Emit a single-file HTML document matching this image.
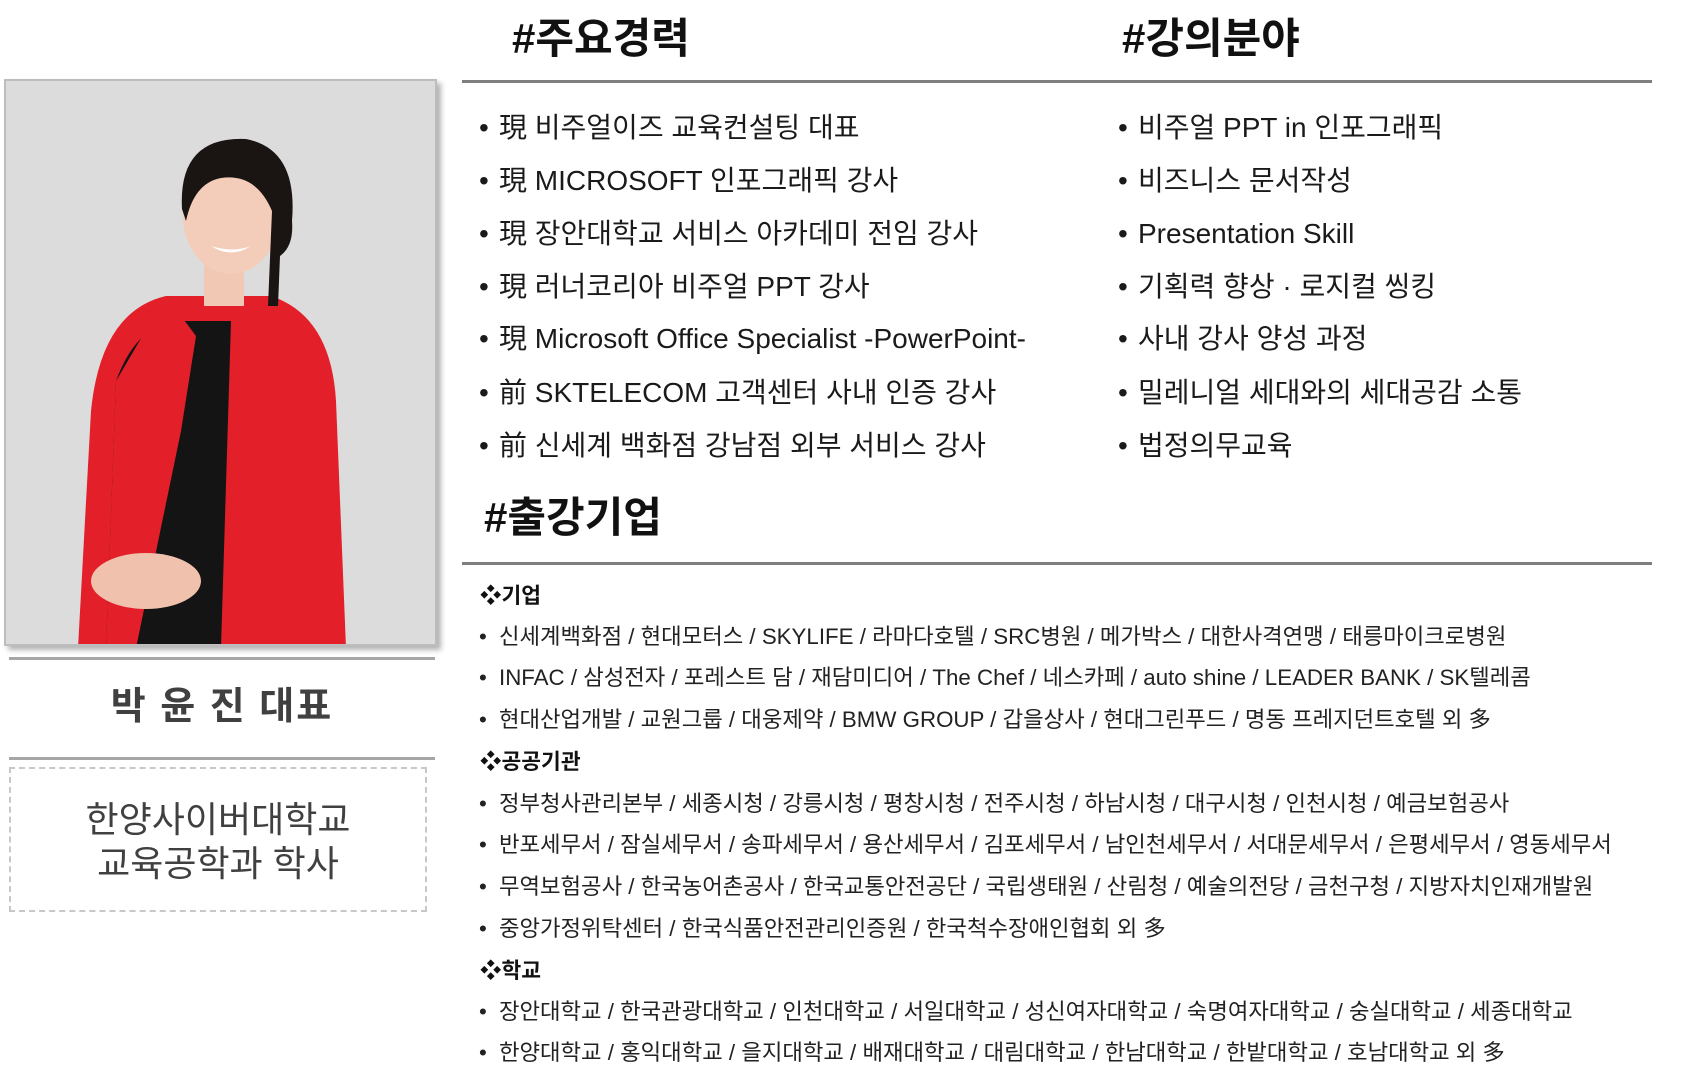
<!DOCTYPE html>
<html><head><meta charset="utf-8">
<style>
*{margin:0;padding:0;box-sizing:border-box}
body{width:1694px;height:1077px;background:#fff;position:relative;overflow:hidden;font-family:"Liberation Sans","Noto Sans CJK KR",sans-serif;color:#1a1a1a}
.a{position:absolute;white-space:nowrap}
.h{font-size:42px;font-weight:bold;color:#111;line-height:50px}
.rule{position:absolute;height:3px;background:#7f7f7f}
.l{font-size:28px;line-height:40px}
.s{font-size:22.3px;line-height:32px;color:#222}
.cat{font-size:21.5px;line-height:32px;font-weight:bold;color:#111}
.b::before{content:"•";position:absolute;left:-20px}
</style></head><body>
<div class="a h" style="left:512px;top:14px">#주요경력</div>
<div class="a h" style="left:1122px;top:14px">#강의분야</div>
<div class="rule" style="left:462px;top:80px;width:1190px"></div>

<div class="a" style="left:4px;top:79px;width:433px;height:567px;background:#dcdcdd;border:2px solid #bdbdbd;box-shadow:4px 4px 5px rgba(0,0,0,.3);overflow:hidden">
<svg width="433" height="567" viewBox="0 0 433 567">
<path d="M72 567 L85 330 Q95 230 160 215 L265 215 Q325 235 330 320 L340 567Z" fill="#e3202a"/>
<path d="M100 567 L110 300 Q130 245 170 240 L225 240 L215 567Z" fill="#141414"/>
<path d="M160 215 L190 255 L175 350 L130 567 L100 567 L110 300 Z" fill="#e3202a"/>
<ellipse cx="140" cy="500" rx="55" ry="28" fill="#f0c2ae"/>
<rect x="198" y="180" width="40" height="45" fill="#f1c8b4"/>
<ellipse cx="225" cy="135" rx="48" ry="58" fill="#f3cdb9"/>
<path d="M176 128 Q172 55 240 58 Q292 68 286 140 Q288 165 274 175 L272 225 L262 225 L266 130 Q250 92 215 97 Q188 102 180 140Z" fill="#1a1412"/>
<path d="M205 165 Q225 178 245 165 Q227 172 205 165Z" fill="#fff"/>
</svg></div>
<div class="rule" style="left:9px;top:657px;width:426px;background:#a6a6a6"></div>
<div class="a" style="left:9px;top:682px;width:426px;text-align:center;font-size:38px;font-weight:bold;color:#404040;line-height:50px;letter-spacing:2px">박 윤 진 대표</div>
<div class="rule" style="left:9px;top:757px;width:426px;background:#a6a6a6"></div>
<div class="a" style="left:9px;top:767px;width:418px;height:145px;border:2px dashed #c8c8c8"></div>
<div class="a" style="left:9px;top:798px;width:418px;text-align:center;font-size:36px;color:#404040;line-height:44px">한양사이버대학교<br>교육공학과 학사</div>

<div class="a l b" style="left:499px;top:108px">現 비주얼이즈 교육컨설팅 대표</div>
<div class="a l b" style="left:499px;top:161px">現 MICROSOFT 인포그래픽 강사</div>
<div class="a l b" style="left:499px;top:214px">現 장안대학교 서비스 아카데미 전임 강사</div>
<div class="a l b" style="left:499px;top:267px">現 러너코리아 비주얼 PPT 강사</div>
<div class="a l b" style="left:499px;top:319px">現 Microsoft Office Specialist -PowerPoint-</div>
<div class="a l b" style="left:499px;top:373px">前 SKTELECOM 고객센터 사내 인증 강사</div>
<div class="a l b" style="left:499px;top:426px">前 신세계 백화점 강남점 외부 서비스 강사</div>

<div class="a l b" style="left:1138px;top:108px">비주얼 PPT in 인포그래픽</div>
<div class="a l b" style="left:1138px;top:161px">비즈니스 문서작성</div>
<div class="a l b" style="left:1138px;top:214px">Presentation Skill</div>
<div class="a l b" style="left:1138px;top:267px">기획력 향상 · 로지컬 씽킹</div>
<div class="a l b" style="left:1138px;top:319px">사내 강사 양성 과정</div>
<div class="a l b" style="left:1138px;top:373px">밀레니얼 세대와의 세대공감 소통</div>
<div class="a l b" style="left:1138px;top:426px">법정의무교육</div>

<div class="a h" style="left:484px;top:493px">#출강기업</div>
<div class="rule" style="left:462px;top:562px;width:1190px"></div>

<div class="a cat" style="left:480px;top:580px">❖기업</div>
<div class="a s b" style="left:499px;top:621px">신세계백화점 / 현대모터스 / SKYLIFE / 라마다호텔 / SRC병원 / 메가박스 / 대한사격연맹 / 태릉마이크로병원</div>
<div class="a s b" style="left:499px;top:662px">INFAC / 삼성전자 / 포레스트 담 / 재담미디어 / The Chef / 네스카페 / auto shine / LEADER BANK / SK텔레콤</div>
<div class="a s b" style="left:499px;top:704px">현대산업개발 / 교원그룹 / 대웅제약 / BMW GROUP / 갑을상사 / 현대그린푸드 / 명동 프레지던트호텔 외 多</div>
<div class="a cat" style="left:480px;top:746px">❖공공기관</div>
<div class="a s b" style="left:499px;top:788px">정부청사관리본부 / 세종시청 / 강릉시청 / 평창시청 / 전주시청 / 하남시청 / 대구시청 / 인천시청 / 예금보험공사</div>
<div class="a s b" style="left:499px;top:829px">반포세무서 / 잠실세무서 / 송파세무서 / 용산세무서 / 김포세무서 / 남인천세무서 / 서대문세무서 / 은평세무서 / 영동세무서</div>
<div class="a s b" style="left:499px;top:871px">무역보험공사 / 한국농어촌공사 / 한국교통안전공단 / 국립생태원 / 산림청 / 예술의전당 / 금천구청 / 지방자치인재개발원</div>
<div class="a s b" style="left:499px;top:913px">중앙가정위탁센터 / 한국식품안전관리인증원 / 한국척수장애인협회  외 多</div>
<div class="a cat" style="left:480px;top:955px">❖학교</div>
<div class="a s b" style="left:499px;top:996px">장안대학교 / 한국관광대학교 / 인천대학교 / 서일대학교 / 성신여자대학교 / 숙명여자대학교 / 숭실대학교 / 세종대학교</div>
<div class="a s b" style="left:499px;top:1037px">한양대학교 / 홍익대학교 / 을지대학교 / 배재대학교 / 대림대학교 / 한남대학교 / 한밭대학교 / 호남대학교 외 多</div>
</body></html>
